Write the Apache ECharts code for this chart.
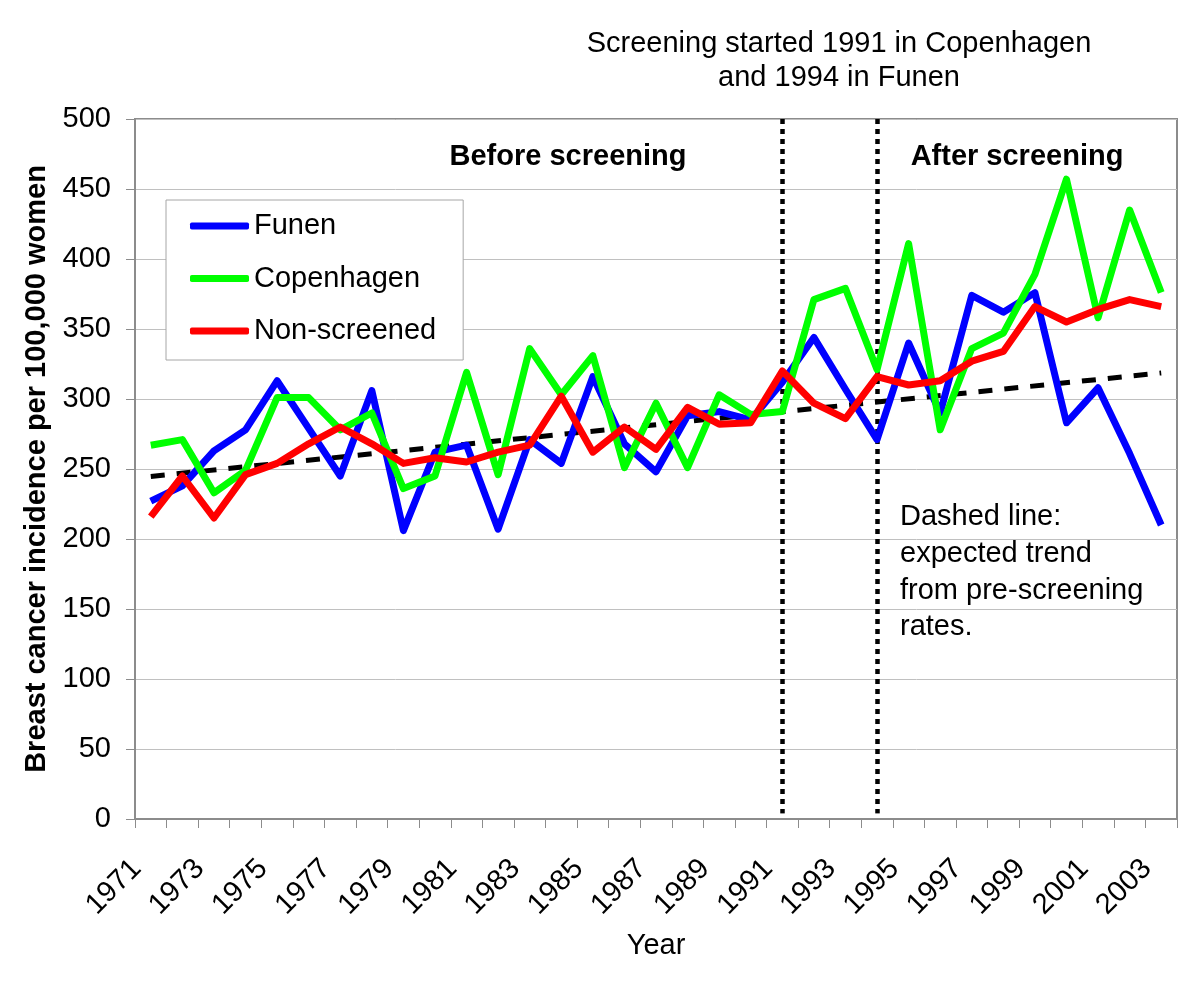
<!DOCTYPE html>
<html>
<head>
<meta charset="utf-8">
<script src="https://cdn.jsdelivr.net/npm/echarts@6/dist/echarts.min.js"></script>
<style>
html,body{margin:0;padding:0;background:#fff;}
#chart{width:1200px;height:992px;}
</style>
</head>
<body>
<div id="chart"></div>
<script>
const years = ['1971','1972','1973','1974','1975','1976','1977','1978','1979','1980','1981','1982','1983','1984','1985','1986','1987','1988','1989','1990','1991','1992','1993','1994','1995','1996','1997','1998','1999','2000','2001','2002','2003'];
const funen = [227,238,263,278,313,279,245,306,206,262,267,207,271,254,316,268,248,288,291,285,312,344,307,271,340,290,374,362,376,283,308,261,210];
const copenhagen = [267,271,233,249,301,301,278,290,236,245,319,246,336,303,331,251,297,251,303,289,291,371,379,321,411,278,336,347,389,457,358,435,376];
const nonScreened = [216,245,215,246,254,268,280,268,254,258,255,262,267,302,262,280,264,294,282,283,320,297,286,316,310,313,327,334,366,355,364,371,366];
// expected trend: straight line read from its two ends (1971 and 2003)
const trendEnds = {first: 244.7, last: 318.6};
const screeningStarts = ['1991','1994'];
const yTicks = {min: 0, max: 500, step: 50};

const trend = years.map((y, i) => i === 0 ? trendEnds.first : (i === years.length - 1 ? trendEnds.last : null));

const FONT = '"Liberation Sans", Arial, sans-serif';
const chart = echarts.init(document.getElementById('chart'), null, {renderer: 'canvas'});

const option = {
  backgroundColor: '#fff',
  animation: false,
  textStyle: {fontFamily: FONT, color: '#000'},
  grid: {left: 135, right: 23, top: 119, bottom: 173, show: true, borderColor: '#8c8c8c', borderWidth: 2, backgroundColor: '#fff'},
  legend: {
    data: ['Funen', 'Copenhagen', 'Non-screened'],
    orient: 'vertical',
    left: 166, top: 200,
    padding: [11, 27, 14, 24],
    itemWidth: 59, itemHeight: 7,
    itemGap: 22.5,
    icon: 'roundRect',
    borderColor: '#a6a6a6', borderWidth: 1,
    backgroundColor: '#fff',
    textStyle: {fontSize: 29, fontFamily: FONT, color: '#000', lineHeight: 30, padding: [0,0,0,0]}
  },
  xAxis: {
    type: 'category',
    data: years,
    boundaryGap: true,
    name: 'Year',
    nameLocation: 'middle',
    nameGap: 112,
    nameTextStyle: {fontSize: 29, fontFamily: FONT, color: '#000'},
    axisLine: {show: true, lineStyle: {color: '#8c8c8c', width: 2}},
    axisTick: {show: true, interval: 0, length: 9, lineStyle: {color: '#8c8c8c', width: 1}},
    axisLabel: {interval: 1, rotate: 45, fontSize: 29, fontFamily: FONT, color: '#000', margin: 31, padding: [0, 20, 0, 0]},
    splitLine: {show: false}
  },
  yAxis: {
    type: 'value',
    min: yTicks.min, max: yTicks.max, interval: yTicks.step,
    name: 'Breast cancer incidence per 100,000 women',
    nameLocation: 'middle',
    nameGap: 80,
    nameTextStyle: {fontSize: 29, fontWeight: 'bold', fontFamily: FONT, color: '#000'},
    axisLine: {show: true, lineStyle: {color: '#8c8c8c', width: 2}},
    axisTick: {show: true, length: 9, lineStyle: {color: '#8c8c8c', width: 1}},
    axisLabel: {fontSize: 29, fontFamily: FONT, color: '#000', margin: 24},
    splitLine: {show: true, lineStyle: {color: '#c0c0c0', width: 1}}
  },
  series: [
    {
      name: 'Expected trend', type: 'line', data: trend, connectNulls: true,
      symbol: 'none', z: 1,
      lineStyle: {color: '#000', width: 5, type: [14, 12], cap: 'butt'},
      markLine: {
        silent: true, symbol: 'none', z: 1,
        label: {show: false},
        lineStyle: {color: '#000', width: 4.5, type: [5, 5], cap: 'butt'},
        data: screeningStarts.map(y => [{xAxis: y, yAxis: 500}, {xAxis: y, yAxis: 4}])
      }
    },
    {name: 'Funen', type: 'line', data: funen, symbol: 'none', z: 2, lineStyle: {color: '#0000ff', width: 7, join: 'round'}, itemStyle: {color: '#0000ff'}},
    {name: 'Copenhagen', type: 'line', data: copenhagen, symbol: 'none', z: 3, lineStyle: {color: '#00ff00', width: 7, join: 'round'}, itemStyle: {color: '#00ff00'}},
    {name: 'Non-screened', type: 'line', data: nonScreened, symbol: 'none', z: 4, lineStyle: {color: '#ff0000', width: 7, join: 'round'}, itemStyle: {color: '#ff0000'}}
  ],
  graphic: [
    {type: 'text', x: 839, y: 61, style: {text: 'Screening started 1991 in Copenhagen\nand 1994 in Funen', font: '29px ' + FONT, fill: '#000', align: 'center', verticalAlign: 'middle', lineHeight: 34}},
    {type: 'text', x: 568, y: 157, z: 10, style: {text: 'Before screening', font: 'bold 29px ' + FONT, fill: '#000', align: 'center', verticalAlign: 'middle'}},
    {type: 'text', x: 1017, y: 157, z: 10, style: {text: 'After screening', font: 'bold 29px ' + FONT, fill: '#000', align: 'center', verticalAlign: 'middle'}},
    {type: 'text', x: 900, y: 499, z: 10, style: {text: 'Dashed line:\nexpected trend\nfrom pre-screening\nrates.', font: '29px ' + FONT, fill: '#000', align: 'left', verticalAlign: 'top', lineHeight: 36.7}}
  ]
};
chart.setOption(option);
</script>
</body>
</html>
